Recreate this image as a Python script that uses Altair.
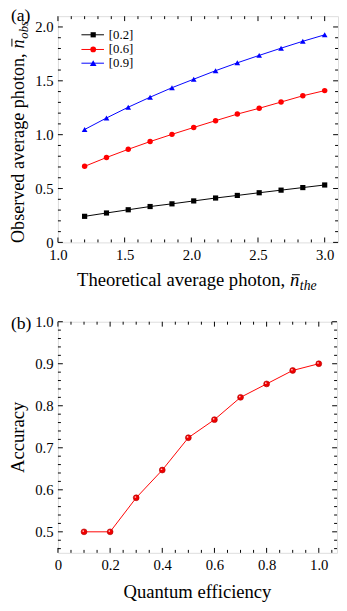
import altair as alt
import pandas as pd

FONT = "Liberation Serif"

# ---------------- Panel (a) data ----------------
n_the = [1.2, 1.364, 1.527, 1.691, 1.855, 2.018, 2.182, 2.345, 2.509, 2.673, 2.836, 3.0]
obs_02 = [0.242, 0.273, 0.303, 0.333, 0.358, 0.385, 0.412, 0.436, 0.461, 0.485, 0.509, 0.533]
obs_06 = [0.706, 0.788, 0.864, 0.936, 1.003, 1.067, 1.130, 1.191, 1.245, 1.303, 1.361, 1.409]
obs_09 = [1.048, 1.155, 1.255, 1.348, 1.436, 1.515, 1.594, 1.667, 1.736, 1.803, 1.867, 1.927]
series_labels = ["[0.2]", "[0.6]", "[0.9]"]
series_colors = ["#000000", "#ff0000", "#0000ff"]
series_shapes = ["square", "circle", "triangle-up"]
series_sizes = [28, 34, 46]

# ---------------- Panel (b) data ----------------
efficiency = [0.1, 0.2, 0.3, 0.4, 0.5, 0.6, 0.7, 0.8, 0.9, 1.0]
accuracy = [0.500, 0.500, 0.581, 0.647, 0.724, 0.767, 0.820, 0.852, 0.884, 0.900]

# ---------------- Ticks ----------------
a_x_major = [1.0, 1.5, 2.0, 2.5, 3.0]
a_x_minor = [1.1, 1.2, 1.3, 1.4, 1.6, 1.7, 1.8, 1.9, 2.1, 2.2, 2.3, 2.4, 2.6, 2.7, 2.8, 2.9]
a_y_major = [0.0, 0.5, 1.0, 1.5, 2.0]
a_y_minor = [0.1, 0.2, 0.3, 0.4, 0.6, 0.7, 0.8, 0.9, 1.1, 1.2, 1.3, 1.4, 1.6, 1.7, 1.8, 1.9]
b_x_major = [0.0, 0.2, 0.4, 0.6, 0.8, 1.0]
b_x_minor = [0.05, 0.1, 0.15, 0.25, 0.3, 0.35, 0.45, 0.5, 0.55, 0.65, 0.7, 0.75,
             0.85, 0.9, 0.95, 1.05]
b_y_major = [0.5, 0.6, 0.7, 0.8, 0.9, 1.0]
b_y_minor = [0.46, 0.48, 0.52, 0.54, 0.56, 0.58, 0.62, 0.64, 0.66, 0.68, 0.72, 0.74,
             0.76, 0.78, 0.82, 0.84, 0.86, 0.88, 0.92, 0.94, 0.96, 0.98]

LABEL_EXPR = "datum.value == 0 ? '0' : format(datum.value, '.1f')"

WA, HA = 286, 231
WB, HB = 285, 236
TFS = 19   # title font size


def axis(vals):
    return alt.Axis(values=vals, title=None, ticks=False, domain=False, grid=False,
                    labelFont=FONT, labelFontSize=15, labelColor="black",
                    labelExpr=LABEL_EXPR, labelFlush=False, labelOverlap=False,
                    labelPadding=5)


def tick_layers(xmaj, xmin, ymaj, ymin, xs, ys, xa, ya, W, H, LM=5, Lm=3):
    layers = []
    for vals, L in ((xmaj, LM), (xmin, Lm)):
        base = alt.Chart(pd.DataFrame({"v": vals})).mark_rule(color="black", strokeWidth=1)
        layers.append(base.encode(x=alt.X("v:Q", scale=xs, axis=xa),
                                  y=alt.value(H), y2=alt.value(H - L)))
        layers.append(base.encode(x=alt.X("v:Q", scale=xs, axis=xa),
                                  y=alt.value(0), y2=alt.value(L)))
    for vals, L in ((ymaj, LM), (ymin, Lm)):
        base = alt.Chart(pd.DataFrame({"v": vals})).mark_rule(color="black", strokeWidth=1)
        layers.append(base.encode(y=alt.Y("v:Q", scale=ys, axis=ya),
                                  x=alt.value(0), x2=alt.value(L)))
        layers.append(base.encode(y=alt.Y("v:Q", scale=ys, axis=ya),
                                  x=alt.value(W), x2=alt.value(W - L)))
    return layers


def text(t, x, y, size=TFS, angle=0, align="left", style="normal", baseline="alphabetic"):
    return alt.Chart(pd.DataFrame({"t": [t]})).mark_text(
        font=FONT, fontSize=size, angle=angle, align=align, baseline=baseline,
        fontStyle=style, color="black").encode(text="t:N", x=alt.value(x), y=alt.value(y))


def bar(x1, x2, y1, y2):
    return alt.Chart(pd.DataFrame({"t": ["bar"]})).mark_rule(color="black", strokeWidth=1).encode(
        x=alt.value(x1), x2=alt.value(x2), y=alt.value(y1), y2=alt.value(y2))


# ---------------- Panel (a) ----------------
xs_a = alt.Scale(domain=[1.0, 3.1], nice=False, zero=False)
ys_a = alt.Scale(domain=[0, 2.1], nice=False, zero=False)
xa_a = axis(a_x_major)
ya_a = axis(a_y_major)

rows = []
for lab, vals in zip(series_labels, [obs_02, obs_06, obs_09]):
    for xv, yv in zip(n_the, vals):
        rows.append({"series": lab, "x": xv, "y": yv})
df_a = pd.DataFrame(rows)

col = alt.Color("series:N", scale=alt.Scale(domain=series_labels, range=series_colors), legend=None)
shp = alt.Shape("series:N", scale=alt.Scale(domain=series_labels, range=series_shapes), legend=None)
siz = alt.Size("series:N", scale=alt.Scale(domain=series_labels, range=series_sizes), legend=None)

lines_a = alt.Chart(df_a).mark_line(strokeWidth=1).encode(
    x=alt.X("x:Q", scale=xs_a, axis=xa_a),
    y=alt.Y("y:Q", scale=ys_a, axis=ya_a),
    color=col, detail="series:N")
pts_a = alt.Chart(df_a).mark_point(filled=True, opacity=1).encode(
    x=alt.X("x:Q", scale=xs_a, axis=xa_a), y=alt.Y("y:Q", scale=ys_a, axis=ya_a),
    color=col, shape=shp, size=siz)

legend_layers = []
leg_y = [19, 34, 48]
for lab, c, s, sz, yy in zip(series_labels, series_colors, series_shapes, series_sizes, leg_y):
    legend_layers.append(alt.Chart(pd.DataFrame({"t": [lab]})).mark_rule(color=c, strokeWidth=1).encode(
        x=alt.value(24), x2=alt.value(47), y=alt.value(yy)))
    legend_layers.append(alt.Chart(pd.DataFrame({"t": [lab]})).mark_point(
        filled=True, opacity=1, color=c, shape=s, size=sz).encode(x=alt.value(36), y=alt.value(yy)))
    legend_layers.append(text(lab, 52, yy, size=13, baseline="middle"))

# Titles for (a)
XT = 232   # right end of upright part of x title
XB = HA + 45  # x title baseline
YT = 38    # top end of upright part of y title
YB = -35   # y title baseline (x position)
YFS = 18.5
title_a = [
    text("(a)", -48, 5, size=18),
    text("Theoretical average photon,", XT, XB, align="right"),
    text("n", XT + 5, XB, style="italic"),
    bar(XT + 7, XT + 15, XB - 12, XB - 12),
    text("the", XT + 15, XB + 4, size=14, style="italic"),
    text("Observed average photon,", YB, YT, size=YFS, angle=270, align="right"),
    text("n", YB, YT - 5, size=YFS, angle=270, align="left", style="italic"),
    bar(YB - 12, YB - 12, YT - 7, YT - 15),
    text("obs", YB + 4, YT - 15, size=13, angle=270, align="left", style="italic"),
]

panel_a = alt.layer(
    lines_a, pts_a,
    *tick_layers(a_x_major, a_x_minor, a_y_major, a_y_minor, xs_a, ys_a, xa_a, ya_a, WA, HA),
    *legend_layers, *title_a,
).properties(width=WA, height=HA)

# ---------------- Panel (b) ----------------
xs_b = alt.Scale(domain=[0, 1.07], nice=False, zero=False)
ys_b = alt.Scale(domain=[0.45, 1.0], nice=False, zero=False)
xa_b = axis(b_x_major)
ya_b = axis(b_y_major)
df_b = pd.DataFrame({"eff": efficiency, "acc": accuracy})

line_b = alt.Chart(df_b).mark_line(color="#ff0000", strokeWidth=1).encode(
    x=alt.X("eff:Q", scale=xs_b, axis=xa_b),
    y=alt.Y("acc:Q", scale=ys_b, axis=ya_b))
pts_b = alt.Chart(df_b).mark_circle(color="#f00000", opacity=1, size=36, stroke="#b00000",
                                    strokeWidth=0.6).encode(
    x=alt.X("eff:Q", scale=xs_b, axis=xa_b), y=alt.Y("acc:Q", scale=ys_b, axis=ya_b))
hl_b = alt.Chart(df_b).mark_circle(color="#ffd0d0", opacity=0.9, size=3, xOffset=-0.8,
                                   yOffset=-0.8).encode(
    x=alt.X("eff:Q", scale=xs_b, axis=xa_b), y=alt.Y("acc:Q", scale=ys_b, axis=ya_b))

title_b = [
    text("(b)", -48, 7, size=18),
    text("Quantum efficiency", WB / 2, HB + 46, align="center"),
    text("Accuracy", YB, HB / 2, angle=270, align="center"),
]

panel_b = alt.layer(
    line_b, pts_b, hl_b,
    *tick_layers(b_x_major, b_x_minor, b_y_major, b_y_minor, xs_b, ys_b, xa_b, ya_b, WB, HB),
    *title_b,
).properties(width=WB, height=HB)

chart = alt.vconcat(panel_a, panel_b, spacing=20).properties(
    padding={"left": 0, "top": -8, "right": 0, "bottom": 0}
).configure_view(stroke="black", strokeWidth=1).configure(background="white")

chart.save("out.html", embed_options={"renderer": "svg", "actions": False})
